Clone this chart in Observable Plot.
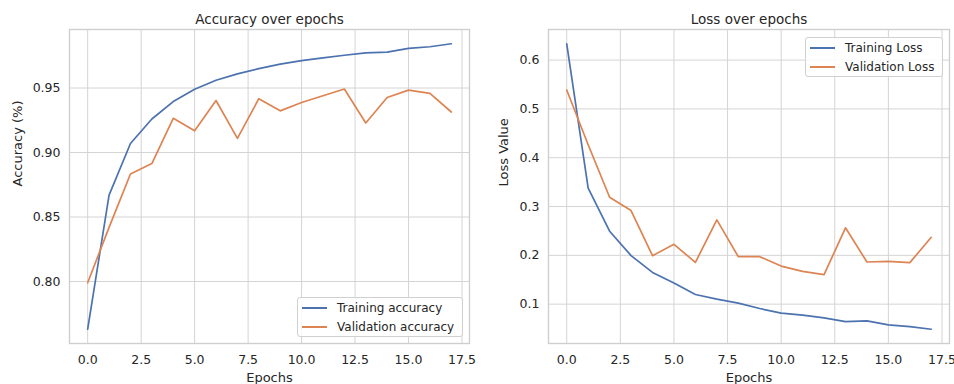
<!DOCTYPE html>
<html>
<head>
<meta charset="utf-8">
<script src="https://cdn.jsdelivr.net/npm/d3@7"></script>
<script src="https://cdn.jsdelivr.net/npm/@observablehq/plot@0.6"></script>
<style>
  html, body { margin: 0; padding: 0; background: #fff; }
  #wrap { position: relative; width: 954px; height: 384px; font-family: "DejaVu Sans", sans-serif; color: #262626; }
  .panel { position: absolute; top: 0; width: 477px; height: 384px; }
  .panel svg { overflow: visible; }
  .legend { position: absolute; box-sizing: border-box; border: 1px solid #d0d0d0; border-radius: 3px;
            background: rgba(255,255,255,0.85); font-size: 12px; color: #262626; }
  .legend .row { position: absolute; left: 0; height: 18px; line-height: 18px; white-space: nowrap; }
  .legend .sw { position: absolute; left: 4px; top: 8px; width: 25px; height: 0; border-top: 2px solid; }
  .legend .lb { position: absolute; left: 39px; top: 0; }
</style>
</head>
<body>
<div id="wrap">
  <div class="panel" id="left" style="left:0"></div>
  <div class="panel" id="right" style="left:477px"></div>
</div>
<script>
// ---- data ----
const epochs = [0,1,2,3,4,5,6,7,8,9,10,11,12,13,14,15,16,17];
const trainAcc = [0.763,0.867,0.907,0.926,0.9395,0.949,0.956,0.961,0.965,0.9685,0.9713,0.9734,0.9754,0.9773,0.9778,0.9807,0.982,0.9843];
const valAcc   = [0.799,0.842,0.8833,0.8914,0.9265,0.9168,0.9403,0.9109,0.9417,0.9323,0.9388,0.944,0.9492,0.9229,0.9427,0.9484,0.9458,0.9314];
const trainLoss = [0.6335,0.3376,0.2494,0.1994,0.165,0.1432,0.1198,0.1103,0.1021,0.091,0.0815,0.0774,0.0719,0.0643,0.0657,0.0574,0.054,0.0486];
const valLoss   = [0.5389,0.4267,0.319,0.2918,0.1994,0.2226,0.1856,0.2726,0.1973,0.1973,0.178,0.167,0.1603,0.2564,0.1864,0.1877,0.185,0.237];
const xTicks = [0,2.5,5,7.5,10,12.5,15,17.5];
const accTicks = [0.80,0.85,0.90,0.95];
const lossTicks = [0.1,0.2,0.3,0.4,0.5,0.6];
const accSeries = ["Training accuracy","Validation accuracy"];
const lossSeries = ["Training Loss","Validation Loss"];
const colors = ["#4c72b0","#dd8452"];

function pad(ext, f = 0.05) { const r = ext[1]-ext[0]; return [ext[0]-r*f, ext[1]+r*f]; }

function rows(names, arrs) {
  const out = [];
  names.forEach((n, i) => arrs[i].forEach((v, j) => out.push({epoch: epochs[j], value: v, series: n})));
  return out;
}

function panel({title, ylabel, names, arrs, yTicks, yFmt, marginLeft, marginRight, yLabelDx}) {
  const data = rows(names, arrs);
  const xDom = pad(d3.extent(epochs));
  const yDom = pad(d3.extent(data, d => d.value));
  return Plot.plot({
    width: 477, height: 384,
    marginLeft, marginRight, marginTop: 29, marginBottom: 41,
    style: {fontFamily: "DejaVu Sans, sans-serif", fontSize: "12.5px", color: "#262626", background: "white", overflow: "visible"},
    x: {domain: xDom},
    y: {domain: yDom},
    color: {domain: names, range: colors},
    marks: [
      Plot.gridX(xTicks, {stroke: "#d4d4d4", strokeOpacity: 1, strokeWidth: 1}),
      Plot.gridY(yTicks, {stroke: "#d4d4d4", strokeOpacity: 1, strokeWidth: 1}),
      Plot.frame({stroke: "#cfcfcf", strokeWidth: 1.4}),
      Plot.axisX(xTicks, {tickFormat: d3.format(".1f"), tickSize: 0, tickPadding: 12, fontSize: 12.5,
                  label: null, fill: "#262626"}),
      Plot.axisY(yTicks, {tickFormat: d3.format(yFmt), tickSize: 0, tickPadding: 9, fontSize: 12.5,
                  label: null, fill: "#262626"}),
      Plot.line(data, {x: "epoch", y: "value", z: "series", stroke: "series", strokeWidth: 1.7}),
      Plot.text(["Epochs"], {frameAnchor: "bottom", text: d => d, lineAnchor: "bottom", dy: 38.5, fontSize: 13, fill: "#262626"}),
      Plot.text([ylabel], {frameAnchor: "left", text: d => d, rotate: -90, lineAnchor: "top", dx: yLabelDx, fontSize: 13, fill: "#262626"}),
      Plot.text([title], {frameAnchor: "top", text: d => d, lineAnchor: "bottom", dy: -5.7, fontSize: 13.5, fill: "#262626"})
    ]
  });
}

document.getElementById("left").append(panel({
  title: "Accuracy over epochs", ylabel: "Accuracy (%)", names: accSeries, arrs: [trainAcc, valAcc],
  yTicks: accTicks, yFmt: ".2f", marginLeft: 69, marginRight: 8, yLabelDx: -57
}));
document.getElementById("right").append(panel({
  title: "Loss over epochs", ylabel: "Loss Value", names: lossSeries, arrs: [trainLoss, valLoss],
  yTicks: lossTicks, yFmt: ".1f", marginLeft: 71, marginRight: 5, yLabelDx: -50
}));

function legend(names, left, top, width) {
  const box = document.createElement("div");
  box.className = "legend";
  Object.assign(box.style, {left: left + "px", top: top + "px", width: width + "px", height: "40px"});
  names.forEach((n, i) => {
    const r = document.createElement("div");
    r.className = "row";
    r.style.top = (1 + i * 18.5) + "px";
    r.innerHTML = `<span class="sw" style="border-color:${colors[i]}"></span><span class="lb">${n}</span>`;
    box.append(r);
  });
  document.getElementById("wrap").append(box);
}
legend(accSeries, 297, 297, 166);
legend(lossSeries, 805, 37, 138);
</script>
</body>
</html>
